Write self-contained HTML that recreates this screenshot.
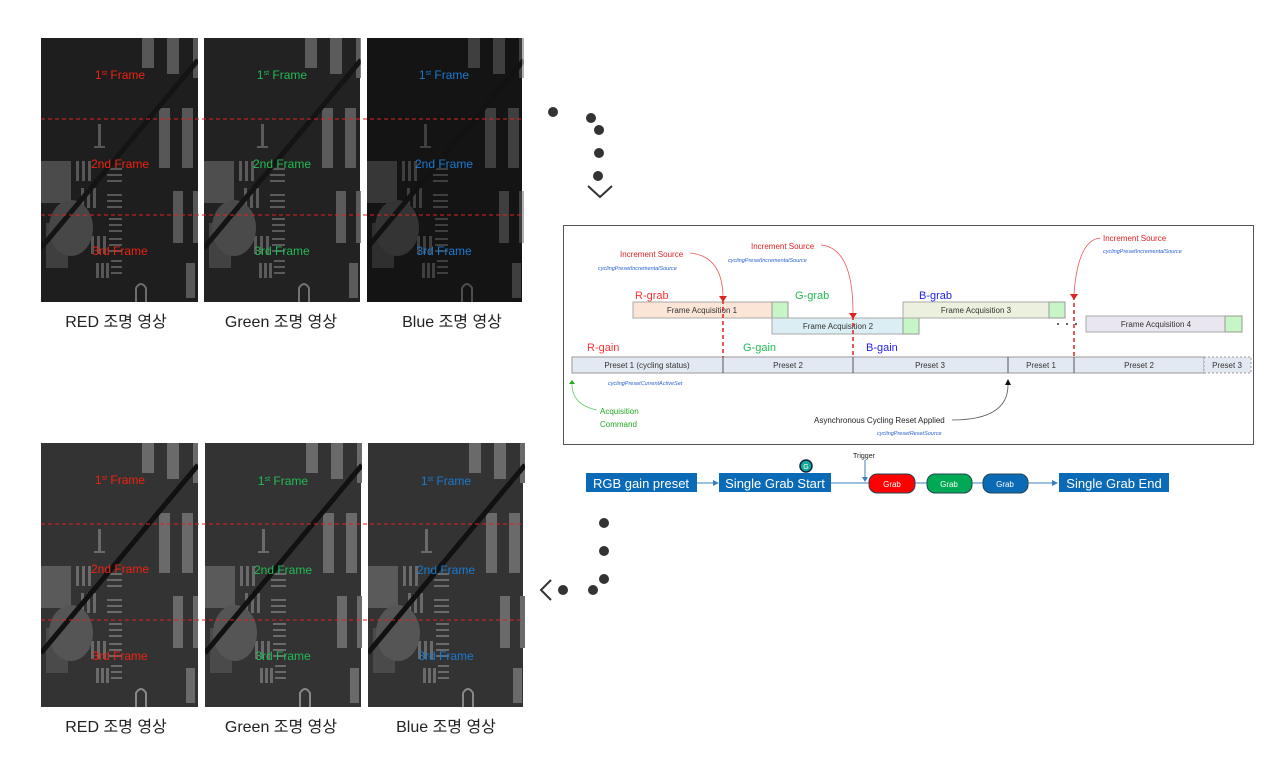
<!DOCTYPE html>
<html><head><meta charset="utf-8">
<style>
html,body{margin:0;padding:0;background:#fff;}
body{width:1287px;height:762px;position:relative;overflow:hidden;font-family:"Liberation Sans","Noto Sans CJK KR",sans-serif;}
</style></head><body>
<svg width="1287" height="762" style="position:absolute;left:0;top:0" font-family="Liberation Sans, Noto Sans CJK KR, sans-serif">
<defs>
<symbol id="img" viewBox="0 0 157 264" width="157" height="264">
  <g fill="#6a6a6a">
    <rect x="101" y="0" width="12" height="30"/><rect x="126" y="0" width="12" height="36"/><rect x="152" y="0" width="5" height="40"/>
    <rect x="118" y="70" width="11" height="60"/><rect x="141" y="70" width="11" height="60"/>
    <rect x="132" y="153" width="10" height="52"/><rect x="152" y="153" width="5" height="52"/>
    <rect x="145" y="225" width="9" height="35"/>
    <rect x="57" y="86" width="3" height="24"/><rect x="53" y="108" width="11" height="2"/>
    <rect x="0" y="123" width="30" height="42" fill="#5a5a5a"/>
    <rect x="35" y="123" width="3" height="20"/><rect x="41" y="123" width="3" height="20"/><rect x="47" y="123" width="3" height="20"/>
    <rect x="40" y="150" width="3" height="20"/><rect x="46" y="150" width="3" height="20"/><rect x="52" y="150" width="3" height="20"/>
    <rect x="50" y="198" width="3" height="18"/><rect x="56" y="198" width="3" height="18"/><rect x="62" y="198" width="3" height="18"/>
    <rect x="55" y="225" width="3" height="15"/><rect x="60" y="225" width="3" height="15"/><rect x="65" y="225" width="3" height="15"/>
    <rect x="66" y="130" width="15" height="2"/><rect x="66" y="136" width="15" height="2"/><rect x="66" y="142" width="15" height="2"/>
    <rect x="66" y="156" width="15" height="2"/><rect x="66" y="162" width="15" height="2"/><rect x="66" y="168" width="15" height="2"/>
    <rect x="68" y="180" width="13" height="2"/><rect x="68" y="186" width="13" height="2"/><rect x="68" y="192" width="13" height="2"/>
    <rect x="68" y="200" width="13" height="2"/><rect x="68" y="206" width="13" height="2"/><rect x="68" y="212" width="13" height="2"/>
    <rect x="70" y="222" width="11" height="2"/><rect x="70" y="228" width="11" height="2"/><rect x="70" y="234" width="11" height="2"/>
    <rect x="5" y="185" width="22" height="45" fill="#4a4a4a"/>
    <ellipse cx="30" cy="190" rx="22" ry="28" fill="#555"/>
  </g>
  <path d="M157 22 L0 210" stroke="#111" stroke-width="5"/>
  <path d="M95 264 L95 250 Q100 242 105 250 L105 264" stroke="#888" stroke-width="2" fill="none"/>
</symbol>
</defs>

<rect x="41" y="38" width="157" height="264" fill="#1e1e1e"/><use href="#img" x="41" y="38" opacity="0.75"/>
<rect x="204" y="38" width="156" height="264" fill="#222"/><use href="#img" x="204" y="38" opacity="0.8"/>
<rect x="367" y="38" width="155" height="264" fill="#141414"/><use href="#img" x="367" y="38" opacity="0.5"/>
<rect x="41" y="443" width="157" height="264" fill="#333"/><use href="#img" x="41" y="443"/>
<rect x="205" y="443" width="156" height="264" fill="#333"/><use href="#img" x="205" y="443"/>
<rect x="368" y="443" width="155" height="264" fill="#333"/><use href="#img" x="368" y="443"/>
<g stroke="#d22" stroke-width="1" stroke-dasharray="4,3">
<line x1="41" y1="119" x2="522" y2="119"/><line x1="41" y1="215" x2="522" y2="215"/>
<line x1="41" y1="524" x2="523" y2="524"/><line x1="41" y1="620" x2="523" y2="620"/>
</g>

<g font-size="12" text-anchor="middle">
<text x="120" y="79" fill="#e21">1<tspan font-size="7" dy="-4">st</tspan><tspan dy="4"> Frame</tspan></text>
<text x="120" y="168" fill="#e21">2nd Frame</text><text x="120" y="255" fill="#e21">3rd Frame</text>
<text x="282" y="79" fill="#2b5">1<tspan font-size="7" dy="-4">st</tspan><tspan dy="4"> Frame</tspan></text>
<text x="282" y="168" fill="#2b5">2nd Frame</text><text x="282" y="255" fill="#2b5">3rd Frame</text>
<text x="444" y="79" fill="#1a7ad0">1<tspan font-size="7" dy="-4">st</tspan><tspan dy="4"> Frame</tspan></text>
<text x="444" y="168" fill="#1a7ad0">2nd Frame</text><text x="444" y="255" fill="#1a7ad0">3rd Frame</text>
<text x="120" y="484" fill="#e21">1<tspan font-size="7" dy="-4">st</tspan><tspan dy="4"> Frame</tspan></text>
<text x="120" y="573" fill="#e21">2nd Frame</text><text x="120" y="660" fill="#e21">3rd Frame</text>
<text x="283" y="485" fill="#2b5">1<tspan font-size="7" dy="-4">st</tspan><tspan dy="4"> Frame</tspan></text>
<text x="283" y="574" fill="#2b5">2nd Frame</text><text x="283" y="660" fill="#2b5">3rd Frame</text>
<text x="446" y="485" fill="#1a7ad0">1<tspan font-size="7" dy="-4">st</tspan><tspan dy="4"> Frame</tspan></text>
<text x="446" y="574" fill="#1a7ad0">2nd Frame</text><text x="446" y="660" fill="#1a7ad0">3rd Frame</text>
</g>
<g font-size="16" text-anchor="middle" fill="#222">
<text x="116" y="327">RED 조명 영상</text><text x="281" y="327">Green 조명 영상</text><text x="452" y="327">Blue 조명 영상</text>
<text x="116" y="732">RED 조명 영상</text><text x="281" y="732">Green 조명 영상</text><text x="446" y="732">Blue 조명 영상</text>
</g>

<g fill="#333">
<circle cx="553" cy="112" r="5"/><circle cx="591" cy="118" r="5"/><circle cx="599" cy="130" r="5"/><circle cx="599" cy="153" r="5"/><circle cx="598" cy="176" r="5"/>
<circle cx="604" cy="523" r="5"/><circle cx="604" cy="551" r="5"/><circle cx="604" cy="579" r="5"/><circle cx="593" cy="590" r="5"/><circle cx="563" cy="590" r="5"/>
</g>
<path d="M588 186 L600 197 L612 186" stroke="#333" stroke-width="2" fill="none"/>
<path d="M551 580 L541 590 L551 600" stroke="#333" stroke-width="2" fill="none"/>

<rect x="563.5" y="225.5" width="690" height="219" fill="#fff" stroke="#555"/>
<g font-size="8" text-anchor="middle" fill="#333">
<rect x="572" y="357" width="151" height="16" fill="#e3e9f3" stroke="#999"/><text x="647" y="368">Preset 1 (cycling status)</text>
<rect x="723" y="357" width="130" height="16" fill="#e3e9f3" stroke="#999"/><text x="788" y="368">Preset 2</text>
<rect x="853" y="357" width="155" height="16" fill="#e3e9f3" stroke="#999"/><text x="930" y="368">Preset 3</text>
<rect x="1008" y="357" width="66" height="16" fill="#e3e9f3" stroke="#999"/><text x="1041" y="368">Preset 1</text>
<rect x="1074" y="357" width="130" height="16" fill="#e3e9f3" stroke="#999"/><text x="1139" y="368">Preset 2</text>
<rect x="1204" y="357" width="47" height="16" fill="#e3e9f3" stroke="#999" stroke-dasharray="2,2"/><text x="1227" y="368">Preset 3</text>
<line x1="723" y1="357" x2="723" y2="373" stroke="#555"/><line x1="853" y1="357" x2="853" y2="373" stroke="#555"/><line x1="1008" y1="357" x2="1008" y2="373" stroke="#555"/><line x1="1074" y1="357" x2="1074" y2="373" stroke="#555"/>
<rect x="633" y="302" width="139" height="16" fill="#fbe5d6" stroke="#aaa"/><text x="702" y="313">Frame Acquisition 1</text>
<rect x="772" y="302" width="16" height="16" fill="#c8f5c8" stroke="#999"/>
<rect x="772" y="318" width="131" height="16" fill="#dbeef4" stroke="#aaa"/><text x="838" y="329">Frame Acquisition 2</text>
<rect x="903" y="318" width="16" height="16" fill="#c8f5c8" stroke="#999"/>
<rect x="903" y="302" width="146" height="16" fill="#ebf1de" stroke="#aaa"/><text x="976" y="313">Frame Acquisition 3</text>
<rect x="1049" y="302" width="16" height="16" fill="#c8f5c8" stroke="#999"/>
<rect x="1086" y="316" width="139" height="16" fill="#e9e6f0" stroke="#aaa"/><text x="1156" y="327">Frame Acquisition 4</text>
<rect x="1225" y="316" width="17" height="16" fill="#c8f5c8" stroke="#999"/>
</g>
<g fill="#333"><circle cx="1058" cy="324" r="1"/><circle cx="1067" cy="324" r="1"/><circle cx="1076" cy="324" r="1"/></g>
<g stroke="#d22" stroke-width="1.5" stroke-dasharray="4,3">
<line x1="723" y1="300" x2="723" y2="357"/><line x1="853" y1="316" x2="853" y2="357"/><line x1="1074" y1="296" x2="1074" y2="357"/>
</g>
<g stroke="#e55" fill="none" stroke-width="0.8">
<path d="M690 253 Q722 256 723 296"/><path d="M821 245 Q853 248 853 313"/><path d="M1100 238 Q1078 240 1074 294"/>
</g>
<g fill="#d22"><path d="M719 296 L727 296 L723 302Z"/><path d="M849 313 L857 313 L853 319Z"/><path d="M1070 294 L1078 294 L1074 300Z"/></g>
<g font-size="8" fill="#d22">
<text x="620" y="257">Increment Source</text><text x="751" y="249">Increment Source</text><text x="1103" y="241">Increment Source</text>
</g>
<g font-size="5.5" fill="#2a5fd0" font-style="italic">
<text x="598" y="270">cyclingPresetIncrementalSource</text><text x="728" y="262">cyclingPresetIncrementalSource</text><text x="1103" y="253">cyclingPresetIncrementalSource</text>
<text x="608" y="385">cyclingPresetCurrentActiveSet</text><text x="877" y="435">cyclingPresetResetSource</text>
</g>
<g font-size="11">
<text x="635" y="299" fill="#f33">R-grab</text><text x="795" y="299" fill="#2b5">G-grab</text><text x="919" y="299" fill="#22e">B-grab</text>
<text x="587" y="351" fill="#f33">R-gain</text><text x="743" y="351" fill="#2b5">G-gain</text><text x="866" y="351" fill="#22e">B-gain</text>
</g>
<path d="M572 380 L569 384 L575 384Z" fill="#2a2"/>
<path d="M572 384 Q572 405 597 410" stroke="#6c6" fill="none" stroke-width="0.8"/>
<text x="600" y="414" font-size="8" fill="#2a2">Acquisition</text><text x="600" y="427" font-size="8" fill="#2a2">Command</text>
<text x="814" y="423" font-size="8" fill="#222">Asynchronous Cycling Reset Applied</text>
<path d="M952 420 Q1008 420 1008 385" stroke="#555" fill="none" stroke-width="0.8"/>
<path d="M1008 379 L1005 385 L1011 385Z" fill="#111"/>

<line x1="697" y1="483" x2="714" y2="483" stroke="#3b7fc0"/><path d="M719 483 L713 480 L713 486Z" fill="#3b7fc0"/>
<line x1="831" y1="483" x2="1052" y2="483" stroke="#3b7fc0"/><path d="M1058 483 L1052 480 L1052 486Z" fill="#3b7fc0"/>
<line x1="865" y1="460" x2="865" y2="478" stroke="#3b7fc0"/><path d="M865 482 L862 477 L868 477Z" fill="#3b7fc0"/>
<text x="853" y="458" font-size="7" fill="#222">Trigger</text>
<rect x="586" y="473" width="111" height="19" fill="#0b6ab5"/><text x="641" y="488" font-size="13" fill="#fff" text-anchor="middle">RGB gain preset</text>
<rect x="719" y="473" width="112" height="19" fill="#0b6ab5"/><text x="775" y="488" font-size="13" fill="#fff" text-anchor="middle">Single Grab Start</text>
<rect x="1059" y="473" width="110" height="19" fill="#0b6ab5"/><text x="1114" y="488" font-size="13" fill="#fff" text-anchor="middle">Single Grab End</text>
<rect x="869" y="474" width="46" height="19" rx="8" fill="#f00" stroke="#245"/><text x="892" y="487" font-size="8" fill="#fff" text-anchor="middle">Grab</text>
<rect x="927" y="474" width="45" height="19" rx="8" fill="#0a5" stroke="#245"/><text x="949" y="487" font-size="8" fill="#fff" text-anchor="middle">Grab</text>
<rect x="983" y="474" width="45" height="19" rx="8" fill="#0b6ab5" stroke="#245"/><text x="1005" y="487" font-size="8" fill="#fff" text-anchor="middle">Grab</text>
<circle cx="806" cy="466" r="6" fill="#1a9" stroke="#124" stroke-width="1.5"/><text x="806" y="469" font-size="7" fill="#fff" text-anchor="middle">G</text>
</svg>
</body></html>
